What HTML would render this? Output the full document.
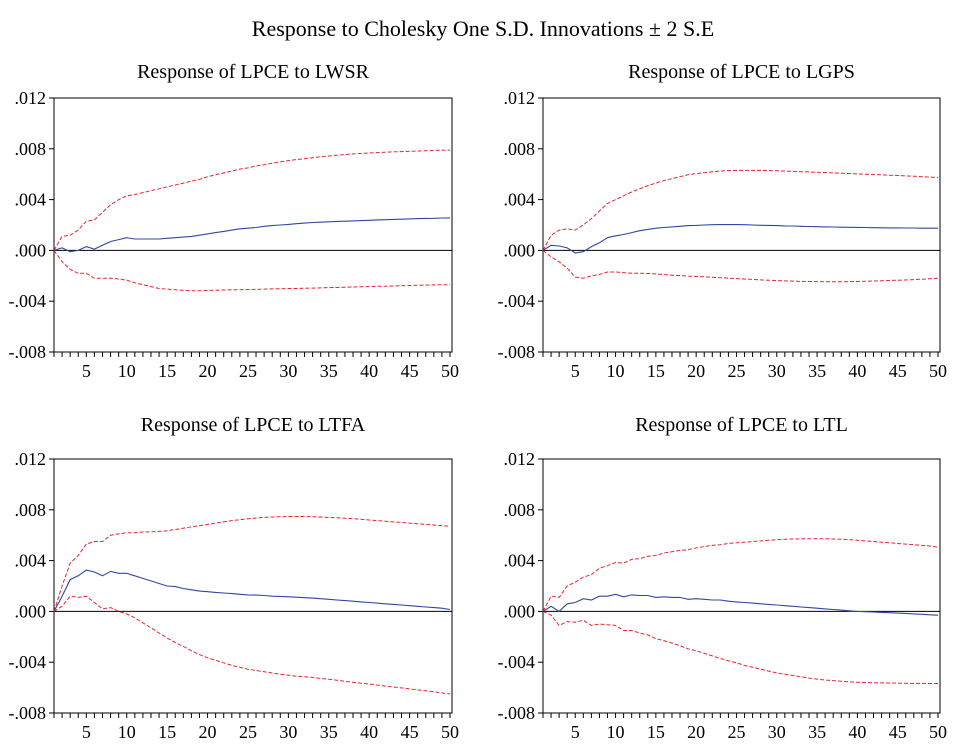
<!DOCTYPE html>
<html><head><meta charset="utf-8"><style>
body{margin:0;background:#fff;}
svg text{font-family:"Liberation Serif",serif;fill:#000;}
</style></head><body>
<svg id="c" width="954" height="749" xmlns="http://www.w3.org/2000/svg">
<rect width="954" height="749" fill="#fff"/>
<text x="483" y="36" font-size="22" text-anchor="middle">Response to Cholesky One S.D. Innovations ± 2 S.E</text>
</svg>
<script>
const periods = 50;
const yTicks = [0.012,0.008,0.004,0,-0.004,-0.008];
const yTickLabels = [".012",".008",".004",".000","-.004","-.008"];
const xTickLabels = [5,10,15,20,25,30,35,40,45,50];
const titles = ["Response of LPCE to LWSR","Response of LPCE to LGPS","Response of LPCE to LTFA","Response of LPCE to LTL"];
const mid1 = [0,0.2,-0.1,0,0.3,0.1,0.4,0.7,0.85,1.0,0.9,0.9,0.9,0.9,0.95,1.0,1.05,1.1,1.2,1.3,1.4,1.5,1.6,1.7,1.75,1.8,1.9,1.95,2.0,2.05,2.1,2.15,2.2,2.22,2.25,2.28,2.3,2.32,2.35,2.37,2.4,2.42,2.44,2.46,2.48,2.5,2.52,2.53,2.55,2.56];
const up1 = [0,1.1,1.2,1.6,2.3,2.4,3.0,3.6,4.0,4.3,4.4,4.55,4.7,4.85,5.0,5.15,5.3,5.45,5.6,5.8,5.95,6.1,6.25,6.4,6.5,6.65,6.75,6.87,6.97,7.07,7.15,7.22,7.3,7.37,7.43,7.5,7.55,7.6,7.63,7.67,7.7,7.73,7.76,7.78,7.8,7.82,7.85,7.87,7.89,7.9];
const lo1 = [0,-0.9,-1.5,-1.8,-1.8,-2.2,-2.2,-2.2,-2.25,-2.35,-2.55,-2.7,-2.85,-3.0,-3.05,-3.1,-3.15,-3.17,-3.17,-3.15,-3.13,-3.12,-3.1,-3.1,-3.08,-3.07,-3.05,-3.03,-3.02,-3.0,-3.0,-2.98,-2.97,-2.95,-2.93,-2.92,-2.9,-2.88,-2.86,-2.85,-2.83,-2.82,-2.8,-2.78,-2.76,-2.75,-2.73,-2.72,-2.7,-2.7];
const mid2 = [0,0.4,0.35,0.2,-0.2,-0.1,0.3,0.6,1.0,1.15,1.25,1.4,1.55,1.65,1.75,1.8,1.85,1.9,1.95,1.97,2.0,2.02,2.03,2.03,2.03,2.02,2.0,1.98,1.97,1.95,1.93,1.92,1.9,1.88,1.87,1.85,1.84,1.83,1.82,1.81,1.8,1.79,1.78,1.77,1.77,1.76,1.76,1.75,1.75,1.75];
const up2 = [0,1.2,1.6,1.7,1.6,2.0,2.5,3.1,3.7,4.0,4.3,4.6,4.85,5.1,5.3,5.5,5.65,5.8,5.95,6.05,6.12,6.2,6.25,6.28,6.3,6.3,6.3,6.3,6.28,6.27,6.25,6.22,6.2,6.18,6.15,6.13,6.1,6.07,6.05,6.02,6.0,5.97,5.95,5.92,5.9,5.87,5.84,5.8,5.77,5.73];
const lo2 = [0,-0.5,-0.9,-1.4,-2.1,-2.2,-2.0,-1.9,-1.7,-1.7,-1.75,-1.8,-1.8,-1.82,-1.85,-1.9,-1.95,-1.98,-2.02,-2.05,-2.08,-2.12,-2.15,-2.18,-2.22,-2.25,-2.28,-2.32,-2.35,-2.38,-2.4,-2.42,-2.44,-2.45,-2.46,-2.47,-2.47,-2.47,-2.46,-2.45,-2.43,-2.41,-2.39,-2.37,-2.35,-2.33,-2.3,-2.27,-2.24,-2.2];
const mid3 = [0,1.2,2.5,2.8,3.25,3.1,2.8,3.15,3.0,3.0,2.8,2.6,2.4,2.2,2.0,1.95,1.8,1.7,1.6,1.55,1.5,1.45,1.4,1.35,1.3,1.28,1.25,1.2,1.18,1.15,1.12,1.08,1.05,1.0,0.95,0.9,0.85,0.8,0.75,0.7,0.65,0.6,0.55,0.5,0.45,0.4,0.35,0.3,0.25,0.15];
const up3 = [0,2.0,3.8,4.4,5.3,5.5,5.5,6.0,6.1,6.2,6.2,6.25,6.27,6.3,6.35,6.45,6.55,6.65,6.75,6.85,6.95,7.05,7.15,7.22,7.3,7.35,7.4,7.43,7.45,7.47,7.47,7.47,7.45,7.43,7.4,7.37,7.33,7.3,7.25,7.2,7.15,7.1,7.05,7.0,6.95,6.9,6.85,6.8,6.75,6.7];
const lo3 = [0,0.4,1.2,1.1,1.2,0.7,0.2,0.3,0.0,-0.2,-0.5,-0.9,-1.3,-1.7,-2.1,-2.45,-2.75,-3.1,-3.4,-3.65,-3.85,-4.05,-4.25,-4.4,-4.55,-4.65,-4.75,-4.85,-4.95,-5.02,-5.1,-5.15,-5.2,-5.28,-5.35,-5.42,-5.5,-5.58,-5.65,-5.72,-5.8,-5.88,-5.95,-6.02,-6.1,-6.18,-6.25,-6.33,-6.42,-6.5];
const mid4 = [0,0.4,0,0.6,0.7,1.0,0.9,1.2,1.2,1.35,1.15,1.3,1.25,1.25,1.1,1.15,1.1,1.1,0.95,1.0,0.95,0.9,0.9,0.8,0.75,0.7,0.65,0.6,0.55,0.5,0.45,0.4,0.35,0.3,0.25,0.2,0.15,0.1,0.05,0.0,-0.02,-0.05,-0.08,-0.1,-0.13,-0.16,-0.2,-0.23,-0.27,-0.3];
const up4 = [0,1.2,1.1,2.0,2.3,2.7,2.9,3.4,3.6,3.85,3.8,4.1,4.15,4.35,4.4,4.6,4.7,4.8,4.85,5.0,5.1,5.2,5.25,5.35,5.4,5.45,5.5,5.55,5.6,5.65,5.68,5.7,5.72,5.72,5.72,5.72,5.7,5.68,5.65,5.6,5.55,5.5,5.45,5.4,5.35,5.3,5.25,5.2,5.15,5.05];
const lo4 = [0,-0.3,-1.1,-0.8,-0.85,-0.7,-1.1,-1.0,-1.05,-1.1,-1.5,-1.5,-1.7,-1.85,-2.15,-2.3,-2.5,-2.7,-2.95,-3.1,-3.3,-3.5,-3.7,-3.9,-4.05,-4.25,-4.4,-4.55,-4.7,-4.85,-4.95,-5.05,-5.15,-5.25,-5.33,-5.4,-5.45,-5.5,-5.55,-5.58,-5.6,-5.62,-5.63,-5.64,-5.65,-5.66,-5.67,-5.67,-5.68,-5.68];
const series = [[mid1,up1,lo1],[mid2,up2,lo2],[mid3,up3,lo3],[mid4,up4,lo4]];

const NS="http://www.w3.org/2000/svg";
const svg=document.getElementById('c');
function mk(tag,attrs,parent){const e=document.createElementNS(NS,tag);for(const k in attrs)e.setAttribute(k,attrs[k]);(parent||svg).appendChild(e);return e;}
const panels=[{L:54,T:98,R:452,B:352,ty:78},{L:543,T:98,R:940,B:352,ty:78},{L:54,T:459,R:452,B:713,ty:431},{L:543,T:459,R:940,B:713,ty:431}];
panels.forEach((p,i)=>{
  const g=mk('g',{});
  
  
  const xs=v=>p.L+(v-1)*(p.R-2-p.L)/(periods-1);
  const ys=v=>p.B-(v+0.008)*(p.B-p.T)/0.020;
  const t=mk('text',{x:(p.L+p.R)/2,y:p.ty,'font-size':20,'text-anchor':'middle'},g);
  t.textContent=titles[i];
  
  
  const box=mk('rect',{x:p.L,y:p.T,width:p.R-p.L,height:p.B-p.T,fill:'none',stroke:'#000','stroke-width':1},g);
  
  
  const z=mk('line',{x1:p.L,x2:p.R,y1:ys(0),y2:ys(0),stroke:'#000','stroke-width':1},g);
  
  
  yTicks.forEach((v,j)=>{
    mk('line',{x1:p.L-5,x2:p.L,y1:ys(v),y2:ys(v),stroke:'#000'},g);
    const tl=mk('text',{x:p.L-8,y:ys(v)+6,'font-size':18,'text-anchor':'end'},g);
    tl.textContent=yTickLabels[j];
    
    
  });
  for(let k=1;k<=periods;k++){mk('line',{x1:xs(k),x2:xs(k),y1:p.B,y2:p.B+5,stroke:'#000'},g);}
  xTickLabels.forEach(v=>{
    const tl=mk('text',{x:xs(v),y:p.B+25,'font-size':18,'text-anchor':'middle'},g);
    tl.textContent=v;
    
    
  });
  const [m,u,l]=series[i];
  const path=arr=>arr.map((v,k)=>(k?'L':'M')+xs(k+1).toFixed(1)+','+ys(v/1000).toFixed(1)).join('');
  const pu=mk('path',{d:path(u),fill:'none',stroke:'#e8262b','stroke-width':1,'stroke-dasharray':'4,2'},g);
  
  
  const pl=mk('path',{d:path(l),fill:'none',stroke:'#e8262b','stroke-width':1,'stroke-dasharray':'4,2'},g);
  
  
  const pm=mk('path',{d:path(m),fill:'none',stroke:'#3048a0','stroke-width':1.1},g);
  
  
});
</script>
</body></html>
